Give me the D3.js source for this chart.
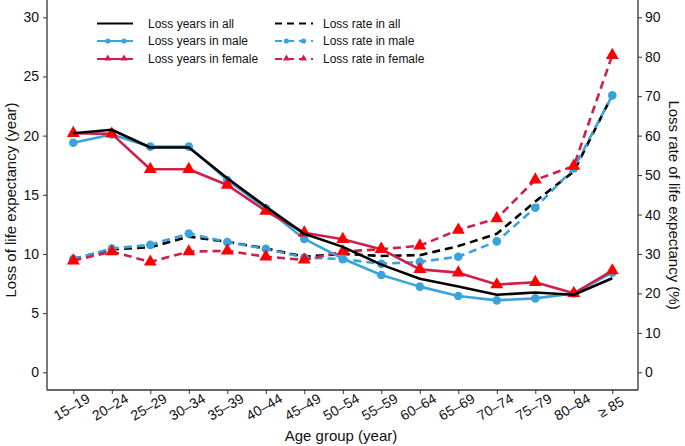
<!DOCTYPE html>
<html><head><meta charset="utf-8">
<script src="https://cdn.jsdelivr.net/npm/d3@7"></script>
<style>body{margin:0;background:#fff}svg{display:block;font-family:"Liberation Sans",Arial,sans-serif}</style>
</head><body><svg id="c" width="685" height="446"></svg>
<script>
const categories = ["15\u201319","20\u201324","25\u201329","30\u201334","35\u201339","40\u201344","45\u201349","50\u201354","55\u201359","60\u201364","65\u201369","70\u201374","75\u201379","80\u201384","\u2265 85"];
const yearsAll    = [20.2,20.5,19.0,19.0,16.4,14.0,11.7,10.6,9.1,7.9,7.25,6.55,6.75,6.55,7.95];
const yearsMale   = [19.4,20.1,19.07,19.07,16.25,13.86,11.27,9.6,8.22,7.24,6.45,6.08,6.25,6.67,8.42];
const yearsFemale = [20.2,20.15,17.16,17.16,15.83,13.63,11.8,11.24,10.4,8.7,8.42,7.41,7.61,6.68,8.59];
const rateAll     = [28.7,31.2,31.7,34.4,33.1,31.4,29.3,30.0,29.5,29.7,32.0,35.1,43.3,50.9,70.3];
const rateMale    = [28.7,31.4,32.3,35.2,33.0,31.3,29.1,28.7,27.5,28.0,29.3,33.2,41.7,51.7,70.2];
const rateFemale  = [28.3,30.6,28.0,30.6,30.8,29.3,28.5,30.6,31.2,32.1,36.1,39.0,48.8,52.3,80.4];
const leftTicks = [0,5,10,15,20,25,30];
const rightTicks = [0,10,20,30,40,50,60,70,80,90];

const svg = d3.select("#c");
const L = 47, R = 638, T = 0, B = 390;
const x = d3.scalePoint().domain(categories).range([73.3, 612.3]);
const yL = d3.scaleLinear().domain([0,30]).range([372.3, 17.3]);
const yR = d3.scaleLinear().domain([0,90]).range([372.3, 17.3]);

const blue = "#3ba3dc", crimson = "#cf1f4c", red = "#ff0000";
const axisCol = "#333";

// frame
svg.append("line").attr("x1",L).attr("x2",L).attr("y1",T).attr("y2",B).attr("stroke",axisCol).attr("stroke-width",1.3);
svg.append("line").attr("x1",R).attr("x2",R).attr("y1",T).attr("y2",B).attr("stroke",axisCol).attr("stroke-width",1.3);
svg.append("line").attr("x1",L).attr("x2",R).attr("y1",B).attr("y2",B).attr("stroke",axisCol).attr("stroke-width",1.3);

function styleAxis(g){g.select(".domain").remove();g.selectAll(".tick line").attr("stroke",axisCol);g.selectAll("text").attr("fill","#111").style("font-size","14px").style("font-family","Liberation Sans, Arial, sans-serif");}
svg.append("g").attr("transform",`translate(${L},0)`).call(d3.axisLeft(yL).tickValues(leftTicks).tickSize(4).tickPadding(4)).call(styleAxis);
svg.append("g").attr("transform",`translate(${R},0)`).call(d3.axisRight(yR).tickValues(rightTicks).tickSize(4).tickPadding(3)).call(styleAxis);
svg.append("g").attr("transform",`translate(0,${B})`).call(d3.axisBottom(x).tickSize(4).tickFormat(()=>"")).call(styleAxis);
// rotated labels
svg.append("g").selectAll("text").data(categories).join("text")
  .attr("transform",d=>`translate(${x(d)-1},${B+18}) rotate(-30)`)
  .attr("text-anchor","middle").attr("dominant-baseline","middle")
  .style("font-size","14px").attr("fill","#111").text(d=>d);

// axis titles
svg.append("text").attr("x",341).attr("y",441).attr("text-anchor","middle").style("font-size","15px").attr("fill","#111").text("Age group (year)");
svg.append("text").attr("transform","translate(16,200) rotate(-90)").attr("text-anchor","middle").style("font-size","15px").attr("fill","#111").text("Loss of life expectancy (year)");
svg.append("text").attr("transform","translate(669,205) rotate(90)").attr("text-anchor","middle").style("font-size","15px").attr("fill","#111").text("Loss rate of life expectancy (%)");

const series = [
  {v:rateAll, y:yR, color:"#000", dash:"8,5", marker:null},
  {v:rateMale, y:yR, color:blue, dash:"8,5", marker:"circle"},
  {v:rateFemale, y:yR, color:crimson, dash:"8,5", marker:"tri"},
  {v:yearsMale, y:yL, color:blue, dash:null, marker:"circle"},
  {v:yearsFemale, y:yL, color:crimson, dash:null, marker:"tri"},
  {v:yearsAll, y:yL, color:"#000", dash:null, marker:null},
];
const tri = d3.symbol().type(d3.symbolTriangle).size(72);
series.forEach(s=>{
  const line = d3.line().x((d,i)=>x(categories[i])).y(d=>s.y(d));
  svg.append("path").datum(s.v).attr("d",line).attr("fill","none").attr("stroke",s.color)
    .attr("stroke-width",2.6).attr("stroke-dasharray",s.dash).attr("stroke-linejoin","round");
  if(s.marker==="circle"){
    svg.append("g").selectAll("circle").data(s.v).join("circle")
      .attr("cx",(d,i)=>x(categories[i])).attr("cy",d=>s.y(d)).attr("r",4.3).attr("fill",blue);
  } else if(s.marker==="tri"){
    svg.append("g").selectAll("path").data(s.v).join("path").attr("d",tri)
      .attr("transform",(d,i)=>`translate(${x(categories[i])},${s.y(d)})`).attr("fill",red);
  }
});

// legend
const legend = [
  {x1:97,x2:133,tx:148,y:23.5,color:"#000",dash:null,marker:null,label:"Loss years in all"},
  {x1:97,x2:133,tx:148,y:41,color:blue,dash:null,marker:"circle",label:"Loss years in male"},
  {x1:97,x2:133,tx:148,y:59,color:crimson,dash:null,marker:"tri",label:"Loss years in female"},
  {x1:275,x2:313,tx:323,y:23.5,color:"#000",dash:"7,5",marker:null,label:"Loss rate in all"},
  {x1:275,x2:313,tx:323,y:41,color:blue,dash:"7,5",marker:"circle",label:"Loss rate in male"},
  {x1:275,x2:313,tx:323,y:59,color:crimson,dash:"7,5",marker:"tri",label:"Loss rate in female"},
];
const smallTri = d3.symbol().type(d3.symbolTriangle).size(22);
legend.forEach(l=>{
  svg.append("line").attr("x1",l.x1).attr("x2",l.x2).attr("y1",l.y).attr("y2",l.y).attr("stroke",l.color).attr("stroke-width",2).attr("stroke-dasharray",l.dash);
  const mx = [l.x1+(l.x2-l.x1)*0.3, l.x1+(l.x2-l.x1)*0.75];
  if(l.marker==="circle") mx.forEach(m=>svg.append("circle").attr("cx",m).attr("cy",l.y).attr("r",2.6).attr("fill",blue));
  if(l.marker==="tri") mx.forEach(m=>svg.append("path").attr("d",smallTri).attr("transform",`translate(${m},${l.y-0.5})`).attr("fill",crimson));
  svg.append("text").attr("x",l.tx).attr("y",l.y).attr("dominant-baseline","central").style("font-size","12px").attr("fill","#111").text(l.label);
});
</script></body></html>
